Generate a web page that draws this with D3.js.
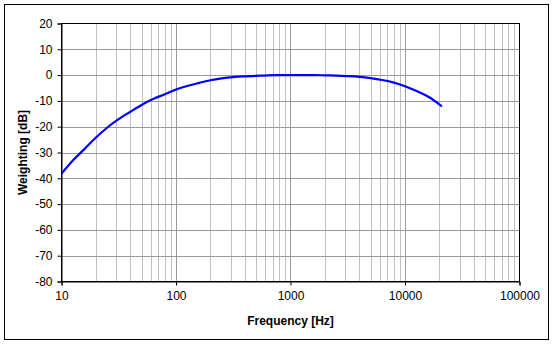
<!DOCTYPE html>
<html>
<head>
<meta charset="utf-8">
<script src="https://cdn.jsdelivr.net/npm/d3@7"></script>
<style>
  body { margin: 0; background: #fff; }
  text { font-family: Arial, "Liberation Sans", sans-serif; }
</style>
</head>
<body>
<div id="chart"></div>
<script>
// B-weighting curve
const frequencies = [10, 12.5, 16, 20, 25, 31.5, 40, 50, 63, 80, 100, 125, 160, 200, 250, 315, 400, 500, 630, 800,
  1000, 1250, 1600, 2000, 2500, 3150, 4000, 5000, 6300, 8000, 10000, 12500, 16000, 21000];
const weighting = [-38.2, -33.2, -28.5, -24.2, -20.4, -17.1, -14.2, -11.6, -9.3, -7.4, -5.6, -4.2, -3.0, -2.0, -1.3, -0.8, -0.5, -0.3, -0.1, 0,
  0, 0, 0, -0.1, -0.2, -0.4, -0.7, -1.2, -1.9, -2.9, -4.3, -6.1, -8.4, -12.1];
const xTicks = [10, 100, 1000, 10000, 100000];
const yTicks = [-80, -70, -60, -50, -40, -30, -20, -10, 0, 10, 20];

const width = 555, height = 346;
const plot = { left: 61.5, top: 23.5, right: 519.5, bottom: 281.5 };

const svg = d3.select("#chart").append("svg")
  .attr("width", width)
  .attr("height", height);

// outer frame
svg.append("rect")
  .attr("x", 4.5).attr("y", 4.5)
  .attr("width", 544).attr("height", 335)
  .attr("fill", "#fff").attr("stroke", "#000");

const x = d3.scaleLog().domain([10, 100000]).range([plot.left, plot.right]);
const y = d3.scaleLinear().domain([-80, 20]).range([plot.bottom, plot.top]);

// minor vertical grid
const minor = [];
for (let dec = 10; dec < 100000; dec *= 10) {
  for (let k = 2; k <= 9; k++) minor.push(dec * k);
}
svg.append("g").selectAll("line")
  .data(minor)
  .join("line")
  .attr("x1", d => Math.round(x(d)) + 0.5)
  .attr("x2", d => Math.round(x(d)) + 0.5)
  .attr("y1", plot.top).attr("y2", plot.bottom)
  .attr("stroke", "#c0c0c0");

// major grid
svg.append("g").selectAll("line")
  .data(xTicks.slice(1, -1))
  .join("line")
  .attr("x1", d => Math.round(x(d)) + 0.5)
  .attr("x2", d => Math.round(x(d)) + 0.5)
  .attr("y1", plot.top).attr("y2", plot.bottom)
  .attr("stroke", "#999");

svg.append("g").selectAll("line")
  .data(yTicks.slice(1, -1))
  .join("line")
  .attr("x1", plot.left).attr("x2", plot.right)
  .attr("y1", d => Math.round(y(d)) + 0.5)
  .attr("y2", d => Math.round(y(d)) + 0.5)
  .attr("stroke", "#999");

// plot border
svg.append("rect")
  .attr("x", plot.left).attr("y", plot.top)
  .attr("width", plot.right - plot.left)
  .attr("height", plot.bottom - plot.top)
  .attr("fill", "none").attr("stroke", "#000");

// axes
const xAxis = svg.append("g")
  .attr("transform", `translate(0,${plot.bottom})`)
  .call(d3.axisBottom(x).tickValues(xTicks).tickFormat(d3.format("d")).tickSize(4).tickPadding(6));
const yAxis = svg.append("g")
  .attr("transform", `translate(${plot.left},0)`)
  .call(d3.axisLeft(y).tickValues(yTicks).tickFormat(d => d).tickSize(4).tickPadding(5));

[xAxis, yAxis].forEach(a => {
  a.select(".domain").attr("stroke", "#000");
  a.selectAll(".tick line").attr("stroke", "#000");
  a.selectAll("text").attr("font-size", 12).attr("fill", "#000")
    .attr("font-family", "Arial, 'Liberation Sans', sans-serif");
});

// curve
const line = d3.line()
  .x((d, i) => x(frequencies[i]))
  .y(d => y(d))
  .curve(d3.curveMonotoneX);

svg.append("path")
  .datum(weighting)
  .attr("d", line)
  .attr("fill", "none")
  .attr("stroke", "#0000ff")
  .attr("stroke-width", 2.2);

// axis titles
svg.append("text")
  .attr("x", (plot.left + plot.right) / 2)
  .attr("y", 325)
  .attr("text-anchor", "middle")
  .attr("font-size", 12)
  .attr("font-weight", "bold")
  .text("Frequency [Hz]");

svg.append("text")
  .attr("transform", `translate(27,${(plot.top + plot.bottom) / 2}) rotate(-90)`)
  .attr("text-anchor", "middle")
  .attr("font-size", 12)
  .attr("font-weight", "bold")
  .text("Weighting [dB]");
</script>
</body>
</html>
